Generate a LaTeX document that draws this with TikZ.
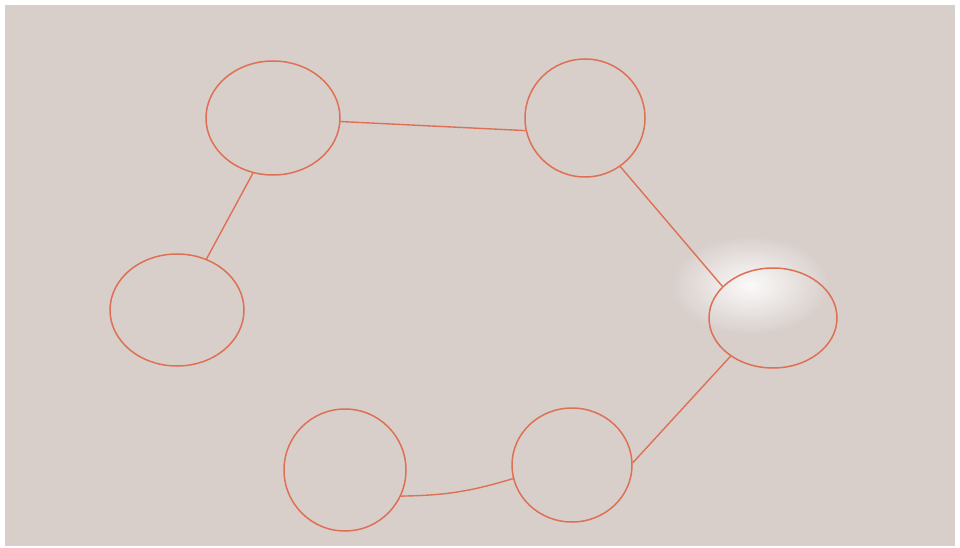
\documentclass[tikz,border=0pt]{standalone}
\usetikzlibrary{shapes.geometric}
\definecolor{board}{RGB}{216,207,203}
\definecolor{ink}{RGB}{222,112,84}
\begin{document}
\begin{tikzpicture}[x=1pt,y=-1pt,
  blob/.style={draw=ink,line width=1.5pt,ellipse,inner sep=0pt},
  wire/.style={draw=ink,line width=1.4pt}]
\useasboundingbox (0,0) rectangle (960,548);
\fill[white] (0,0) rectangle (960,548);
\fill[board] (5,5) rectangle (955,546);
\shade[inner color=white,outer color=board,opacity=0.9] (750,285) ellipse (80 and 50);
\node[blob,minimum width=134pt,minimum height=114pt] (a) at (273,118) {};
\node[blob,minimum width=120pt,minimum height=118pt] (b) at (585,118) {};
\node[blob,minimum width=134pt,minimum height=112pt] (c) at (177,310) {};
\node[blob,minimum width=128pt,minimum height=100pt] (d) at (773,318) {};
\node[blob,minimum width=122pt,minimum height=122pt] (e) at (345,470) {};
\node[blob,minimum width=120pt,minimum height=114pt] (f) at (572,465) {};
\draw[wire] (a.-3) -- (b.192);
\draw[wire] (b.-54) -- (d.148);
\draw[wire] (a.-110) -- (c.60);
\draw[wire] (d.222) -- (f.2);
\draw[wire] (e.-25) to[bend right=8] (f.193);
\end{tikzpicture}
\end{document}
